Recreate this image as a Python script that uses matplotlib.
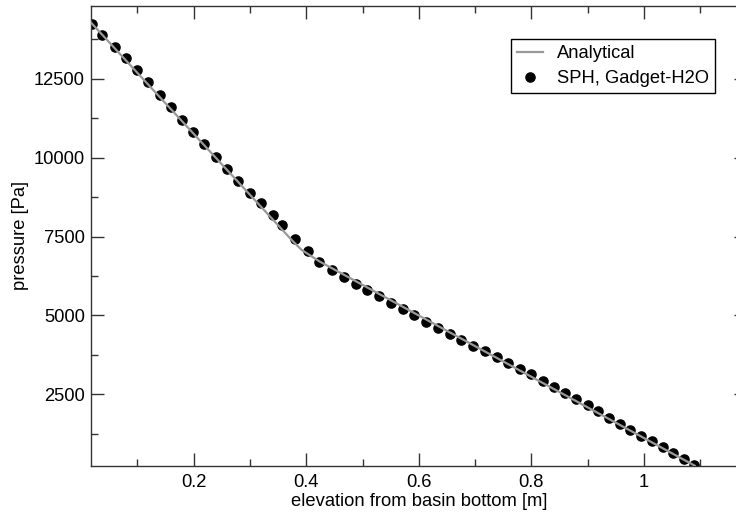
import matplotlib
matplotlib.use("Agg")
import matplotlib.pyplot as plt
from matplotlib.ticker import MultipleLocator

plt.rcParams['font.family'] = ['Liberation Sans', 'DejaVu Sans']

# SPH particle pressures along the vertical profile
sph_elevation = [0.0199, 0.0377, 0.0602, 0.0792, 0.0999, 0.1195, 0.1400, 0.1597,
                 0.1798, 0.1993, 0.2188, 0.2396, 0.2597, 0.2792, 0.3000, 0.3195,
                 0.3403, 0.3563, 0.3794, 0.4025, 0.4231, 0.4456, 0.4664, 0.4877,
                 0.5084, 0.5297, 0.5505, 0.5712, 0.5918, 0.6126, 0.6340, 0.6547,
                 0.6753, 0.6966, 0.7174, 0.7380, 0.7588, 0.7795, 0.8000, 0.8210,
                 0.8405, 0.8600, 0.8800, 0.9000, 0.9187, 0.9377, 0.9570, 0.9755,
                 0.9950, 1.0140, 1.0330, 1.0513, 1.0703, 1.0890]
sph_pressure = [14235, 13887, 13497, 13167, 12778, 12388, 11996, 11596,
                11203, 10803, 10423, 10030, 9650, 9250, 8889, 8553,
                8192, 7865, 7412, 7032, 6703, 6439, 6218, 5996,
                5796, 5606, 5384, 5194, 5004, 4801, 4611, 4411,
                4221, 4021, 3863, 3682, 3483, 3302, 3134, 2931,
                2732, 2542, 2342, 2152, 1962, 1759, 1569, 1379,
                1179, 1011, 821, 650, 460, 269]

# Analytical hydrostatic profile (two fluid layers, smoothed interface)
ana_elevation = [0.0176, 0.377, 0.392, 0.4243, 1.090]
ana_pressure = [14280, 7336, 7073, 6703, 240]

x_ticks = [0.2, 0.4, 0.6, 0.8, 1.0]
x_tick_labels = ['0.2', '0.4', '0.6', '0.8', '1']
y_ticks = [2500, 5000, 7500, 10000, 12500]

W, H = 736, 513
FS = 13.2
fig = plt.figure(figsize=(W / 100, H / 100), dpi=100)
left, right, top, bottom = 91, 747, 6, 466
ax = fig.add_axes([left / W, 1 - bottom / H, (right - left) / W, (bottom - top) / H])

ax.plot(ana_elevation, ana_pressure, color='#999999', lw=1.6, zorder=3,
        label='Analytical')
ax.plot(sph_elevation, sph_pressure, 'o', color='black', ms=6.6, zorder=2,
        label='SPH, Gadget-H2O')

ax.set_xlim(0.0176, 1.183)
ax.set_ylim(228, 14806)

ax.set_xticks(x_ticks)
ax.set_xticklabels(x_tick_labels)
ax.set_yticks(y_ticks)
ax.xaxis.set_minor_locator(MultipleLocator(0.1))
ax.yaxis.set_minor_locator(MultipleLocator(1250))

ax.tick_params(which='both', direction='in', top=True, right=True,
               colors='#333333', labelcolor='black', width=1.0, labelsize=FS)
ax.tick_params(which='major', length=9.4, pad=4.5)
ax.tick_params(axis='x', which='major', pad=5.5)
ax.tick_params(which='minor', length=5)
for s in ax.spines.values():
    s.set_color('#333333')
    s.set_linewidth(1.0)

ax.set_xlabel('elevation from basin bottom [m]', fontsize=FS, labelpad=2)
ax.set_ylabel('pressure [Pa]', fontsize=FS, labelpad=3)

leg = ax.legend(loc='upper left', bbox_to_anchor=(510.7 / W, 1 - 39.3 / H),
                bbox_transform=fig.transFigure, borderaxespad=0,
                fontsize=FS, frameon=True, fancybox=False, framealpha=1,
                edgecolor='black', handlelength=1.45, handletextpad=0.75,
                borderpad=0.33, labelspacing=0.42, numpoints=1)
leg.get_frame().set_linewidth(1.0)
leg.legend_handles[1].set_markersize(6.6)

fig.savefig('out.png', dpi=100)
